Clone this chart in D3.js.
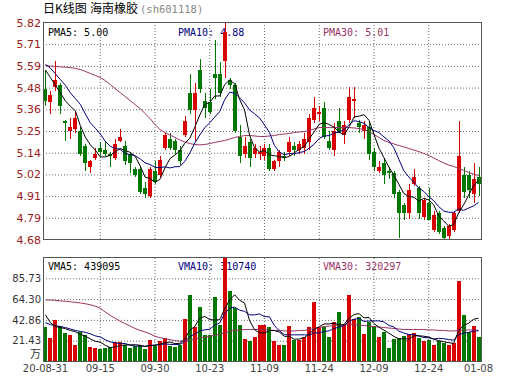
<!DOCTYPE html>
<html><head><meta charset="utf-8">
<script src="https://cdn.jsdelivr.net/npm/d3@7"></script>
<style>body{margin:0;background:#fff}svg{display:block}</style>
</head><body><svg id="c" width="530" height="391"></svg>
<script>
const dates=["2020-08-31",
"2020-09-01","2020-09-02","2020-09-03","2020-09-04","2020-09-07","2020-09-08","2020-09-09","2020-09-10","2020-09-11","2020-09-14","2020-09-15","2020-09-16","2020-09-17","2020-09-18","2020-09-21","2020-09-22","2020-09-23","2020-09-24","2020-09-25","2020-09-28","2020-09-29","2020-09-30",
"2020-10-09","2020-10-12","2020-10-13","2020-10-14","2020-10-15","2020-10-16","2020-10-19","2020-10-20","2020-10-21","2020-10-22","2020-10-23","2020-10-26","2020-10-27","2020-10-28","2020-10-29","2020-10-30",
"2020-11-02","2020-11-03","2020-11-04","2020-11-05","2020-11-06","2020-11-09","2020-11-10","2020-11-11","2020-11-12","2020-11-13","2020-11-16","2020-11-17","2020-11-18","2020-11-19","2020-11-20","2020-11-23","2020-11-24","2020-11-25","2020-11-26","2020-11-27","2020-11-30",
"2020-12-01","2020-12-02","2020-12-03","2020-12-04","2020-12-07","2020-12-08","2020-12-09","2020-12-10","2020-12-11","2020-12-14","2020-12-15","2020-12-16","2020-12-17","2020-12-18","2020-12-21","2020-12-22","2020-12-23","2020-12-24","2020-12-25","2020-12-28","2020-12-29","2020-12-30","2020-12-31",
"2021-01-04","2021-01-05","2021-01-06","2021-01-07","2021-01-08"];

const opens=[5.47,5.40,5.48,5.49,5.30,5.25,5.26,5.25,5.17,5.06,5.11,5.16,5.15,5.13,5.11,5.20,5.17,5.13,5.05,5.05,4.95,4.91,5.04,5.02,5.16,5.21,5.20,5.15,5.23,5.45,5.36,5.57,5.41,5.40,5.55,5.55,5.62,5.52,5.49,5.22,5.13,5.19,5.13,5.13,5.12,5.16,5.05,5.09,5.12,5.14,5.17,5.15,5.16,5.19,5.31,5.34,5.37,5.20,5.15,5.30,5.23,5.31,5.41,5.29,5.25,5.27,5.14,5.04,5.08,5.04,5.03,4.93,4.86,4.82,4.97,4.95,4.80,4.87,4.73,4.82,4.74,4.70,4.73,4.83,5.02,5.02,4.92,5.01];
const highs=[5.57,5.46,5.62,5.50,5.31,5.32,5.35,5.27,5.18,5.10,5.16,5.19,5.20,5.14,5.21,5.26,5.20,5.14,5.06,5.06,4.98,5.06,5.09,5.12,5.24,5.24,5.21,5.17,5.33,5.55,5.50,5.63,5.45,5.47,5.73,5.61,5.82,5.53,5.50,5.28,5.22,5.21,5.18,5.17,5.18,5.18,5.10,5.15,5.14,5.22,5.19,5.20,5.24,5.34,5.43,5.38,5.40,5.25,5.29,5.37,5.30,5.48,5.48,5.31,5.30,5.30,5.16,5.09,5.11,5.06,5.04,4.94,4.87,4.97,5.05,4.96,4.90,4.95,4.83,4.83,4.75,4.76,4.83,5.30,5.06,5.04,5.08,5.06];
const lows=[5.38,5.34,5.46,5.34,5.20,5.21,5.24,5.12,5.04,5.03,5.10,5.12,5.12,5.06,5.10,5.19,5.07,5.03,5.01,4.92,4.90,4.90,4.97,5.01,5.15,5.15,5.13,5.07,5.22,5.34,5.20,5.45,5.32,5.34,5.42,5.43,5.53,5.47,5.24,5.08,5.11,5.06,5.11,5.10,5.10,5.04,5.04,5.06,5.09,5.12,5.12,5.13,5.13,5.15,5.29,5.30,5.21,5.15,5.12,5.24,5.18,5.29,5.32,5.24,5.21,5.10,5.04,5.03,4.97,5.00,4.90,4.69,4.78,4.79,4.96,4.79,4.78,4.78,4.72,4.71,4.68,4.68,4.72,4.82,4.90,4.90,4.87,4.91];
const closes=[5.41,5.44,5.52,5.38,5.29,5.27,5.32,5.13,5.08,5.09,5.13,5.14,5.13,5.12,5.18,5.22,5.09,5.08,5.02,4.93,4.92,5.05,4.98,5.10,5.23,5.16,5.15,5.09,5.30,5.36,5.45,5.47,5.37,5.35,5.53,5.45,5.77,5.49,5.25,5.12,5.17,5.11,5.16,5.14,5.16,5.05,5.09,5.14,5.11,5.19,5.15,5.18,5.21,5.32,5.37,5.35,5.22,5.16,5.25,5.24,5.28,5.43,5.42,5.27,5.28,5.13,5.06,5.06,5.02,5.03,4.92,4.82,4.82,4.94,5.01,4.82,4.89,4.78,4.81,4.72,4.69,4.75,4.82,5.12,4.93,4.94,5.00,4.97];

// volume, 万 shares
const volumes=[36.0,24.0,42.9,37.0,29.1,26.8,17.5,30.2,26.8,15.4,14.4,13.0,14.1,14.7,19.6,19.6,17.5,14.1,15.8,16.5,12.7,22.6,15.8,21.6,24.4,15.8,14.7,17.2,44.3,68.9,36.0,56.6,26.8,27.8,66.2,38.1,112,72.3,55.2,38.1,23.3,21.6,25.7,38.1,38.1,36.0,21.6,17.5,16.5,37.0,22.3,22.3,25.0,36.0,61.0,35.3,36.0,25.0,40.5,50.8,38.1,68.6,43.9,45.6,28.5,40.5,37.0,25.0,30.2,13.7,23.3,24.4,26.1,28.5,29.5,24.4,21.6,22.3,17.5,21.6,18.9,16.5,19.2,82.6,48.4,30.2,37.0,25.0];

// moving-average lines
const ma5=[5.57,5.53,5.49,5.45,5.408,5.38,5.356,5.278,5.218,5.178,5.15,5.114,5.114,5.122,5.14,5.158,5.148,5.138,5.118,5.068,5.008,5.0,4.98,4.996,5.056,5.104,5.124,5.146,5.186,5.212,5.27,5.334,5.39,5.40,5.434,5.434,5.494,5.518,5.498,5.416,5.36,5.228,5.162,5.14,5.148,5.124,5.12,5.116,5.11,5.116,5.136,5.154,5.168,5.21,5.246,5.286,5.294,5.284,5.27,5.244,5.23,5.272,5.324,5.328,5.336,5.306,5.232,5.16,5.11,5.06,5.018,4.97,4.922,4.906,4.902,4.882,4.896,4.888,4.862,4.804,4.778,4.75,4.758,4.82,4.862,4.912,4.962,4.992];
const ma10=[5.60,5.58,5.55,5.52,5.49,5.45,5.42,5.39,5.34,5.293,5.265,5.235,5.196,5.17,5.159,5.154,5.131,5.126,5.12,5.104,5.083,5.074,5.059,5.057,5.062,5.056,5.062,5.063,5.091,5.134,5.187,5.229,5.268,5.293,5.323,5.352,5.414,5.454,5.449,5.425,5.397,5.361,5.34,5.319,5.282,5.242,5.174,5.139,5.125,5.132,5.13,5.137,5.142,5.16,5.181,5.211,5.224,5.226,5.24,5.245,5.258,5.283,5.304,5.299,5.29,5.268,5.252,5.242,5.219,5.198,5.162,5.101,5.041,5.008,4.981,4.95,4.933,4.905,4.884,4.853,4.83,4.823,4.823,4.841,4.833,4.845,4.856,4.875];
const ma30=[5.594,5.591,5.589,5.587,5.585,5.583,5.579,5.573,5.563,5.552,5.542,5.531,5.515,5.494,5.473,5.452,5.431,5.41,5.389,5.368,5.342,5.316,5.284,5.258,5.242,5.229,5.216,5.203,5.192,5.184,5.179,5.177,5.179,5.184,5.19,5.195,5.20,5.208,5.216,5.221,5.226,5.226,5.224,5.221,5.221,5.224,5.226,5.232,5.234,5.237,5.242,5.245,5.247,5.253,5.261,5.268,5.268,5.268,5.268,5.268,5.268,5.268,5.266,5.263,5.258,5.247,5.232,5.216,5.20,5.19,5.182,5.174,5.166,5.158,5.15,5.142,5.132,5.121,5.108,5.095,5.082,5.071,5.064,5.053,5.043,5.032,5.024,5.016];
const vma5=[48,40,36,35,33.8,31.96,30.66,28.12,26.08,23.34,20.86,19.96,16.74,14.32,15.16,16.2,17.1,17.1,17.32,16.7,15.32,16.34,16.68,17.84,19.42,20.04,18.46,18.74,23.28,32.18,36.22,44.6,46.52,43.22,42.68,43.1,54.18,63.28,68.76,63.14,60.18,42.1,32.78,29.36,29.36,31.9,31.9,30.26,25.94,25.72,22.98,23.12,24.62,28.52,33.32,35.92,38.66,38.66,39.56,37.52,38.08,44.6,48.38,49.4,44.94,45.42,39.1,35.32,32.24,29.28,25.84,23.32,23.54,23.2,26.36,26.58,26.02,25.26,23.06,21.48,20.38,19.36,18.74,31.76,37.12,39.38,43.48,44.64];
const vma10=[40,38,37,36,35,33.5,32,31,30,28.57,26.41,25.31,22.43,20.2,19.25,18.53,18.53,16.92,15.82,15.93,15.76,16.72,16.89,17.58,18.06,17.68,17.4,17.71,20.56,25.8,28.13,31.53,32.63,33.25,37.43,39.66,49.39,54.9,55.99,52.91,51.64,48.14,48.03,49.06,46.25,46.04,37.0,31.52,27.65,27.54,27.44,27.51,27.44,27.23,29.52,29.45,30.89,31.64,34.04,35.42,37.0,41.63,43.52,44.48,41.23,41.75,41.85,41.85,40.82,37.11,35.63,31.21,29.43,27.72,27.82,26.21,24.67,24.4,23.13,23.92,23.48,22.69,22.0,27.41,29.3,29.88,31.42,31.69];
const vma30=[63.5,63.3,63,62.5,62,61.5,61,60.3,59.5,58.5,57,55,51,47.5,44.5,41.5,39,36.5,34,32,30.5,28.5,26,24.5,23.5,22.5,21.5,21,21,22,23,24.5,25,26,27,28,29.5,31,32,32.5,33,33,33,33,33,32.5,32,32,31.5,31.5,31.5,32,32,33,34,35,36,36.5,37,37.5,38,38.5,38,37.5,37,36.5,36,35.5,35,34.5,34,33.5,33,33,33,33,33,32.5,32.5,32,32,31.5,31.5,32,32.5,32.5,32.5,32];

const priceTicks=[4.68,4.794,4.908,5.022,5.136,5.25,5.364,5.478,5.592,5.706,5.82];
const volTicks=[21.43,42.86,64.295,85.73];
const volTickLabels=["21.43","42.86","64.30","85.73"];
const tickDates=["2020-08-31","2020-09-15","2020-09-30","2020-10-23","2020-11-09","2020-11-24","2020-12-09","2020-12-24","2021-01-08"];
const tickLabels=["20-08-31","09-15","09-30","10-23","11-09","11-24","12-09","12-24","01-08"];

const UP="#d80000", DOWN="#007800";
const svg=d3.select("#c");
const L=43,R=481,PT=22,PB=239,VT=257,VB=361;
const x=d3.scaleBand().domain(dates).range([L,R]).paddingInner(0.2).paddingOuter(0.1);
const cx=d=>x(d)+x.bandwidth()/2;
const yP=d3.scaleLinear().domain([4.68,5.82]).range([PB+0.5,PT+0.5]);
const yV=d3.scaleLinear().domain([0,107.16]).range([VB+0.5,VT+0.5]);

const defs=svg.append("defs");
defs.append("clipPath").attr("id","cp").append("rect").attr("x",L).attr("y",PT).attr("width",R-L+1).attr("height",PB-PT+1);
defs.append("clipPath").attr("id","cv").append("rect").attr("x",L).attr("y",VT).attr("width",R-L+1).attr("height",VB-VT+1);

// title
const tF="'Noto Sans CJK SC'";
svg.append("text").attr("x",43).attr("y",13).attr("font-family",tF).attr("font-size",12).attr("fill","#000").text("日K线图");
svg.append("text").attr("x",90).attr("y",13).attr("font-family",tF).attr("font-size",12).attr("fill","#000").text("海南橡胶");
svg.append("text").attr("x",140).attr("y",13).attr("font-family","'DejaVu Sans Mono'").attr("font-size",10.5).attr("fill","#888").text("(sh601118)");

// legends
const legF="'DejaVu Sans Mono'";
function leg(tx,ty,t,c){svg.append("text").attr("x",tx).attr("y",ty).attr("font-family",legF).attr("font-size",10).attr("fill",c).text(t);}
leg(48,36,"PMA5: 5.00","#000");
leg(178,36,"PMA10: 4.88","#000080");
leg(323,36,"PMA30: 5.01","#993366");
leg(48,270,"VMA5: 439095","#000");
leg(178,270,"VMA10: 310740","#000080");
leg(323,270,"VMA30: 320297","#993366");

// grids
function gridStyle(g){g.select(".domain").remove();g.selectAll("line").attr("stroke","#6a6a6a").attr("stroke-dasharray","1,2");g.selectAll("text").remove();}
svg.append("g").attr("transform",`translate(${L},0)`).call(d3.axisLeft(yP).tickValues(priceTicks.slice(1,-1)).tickSize(-(R-L)).tickFormat("")).call(gridStyle);
svg.append("g").attr("transform",`translate(${L},0)`).call(d3.axisLeft(yV).tickValues(volTicks).tickSize(-(R-L)).tickFormat("")).call(gridStyle);
const innerDates=tickDates.slice(1,-1);
svg.append("g").attr("transform",`translate(0,${PB})`).call(d3.axisBottom(x).tickValues(innerDates).tickSize(-(PB-PT)).tickFormat("")).call(gridStyle);
svg.append("g").attr("transform",`translate(0,${VB})`).call(d3.axisBottom(x).tickValues(innerDates).tickSize(-(VB-VT)).tickFormat("")).call(gridStyle);

// candles
const gC=svg.append("g").attr("clip-path","url(#cp)");
dates.forEach((d,i)=>{
  const o=opens[i],c=closes[i],h=highs[i],l=lows[i];
  const col=c>=o?UP:DOWN;
  const bx=Math.round(cx(d)-2);
  const yh=Math.round(yP(h)),yl=Math.round(yP(l));
  gC.append("rect").attr("x",bx+2).attr("width",1).attr("y",yh).attr("height",Math.max(1,yl-yh)).attr("fill",col);
  const y1=Math.round(yP(Math.max(o,c))),y2=Math.round(yP(Math.min(o,c)));
  gC.append("rect").attr("x",bx).attr("width",4).attr("y",y1).attr("height",Math.max(1,y2-y1)).attr("fill",col);
});
// volume bars
const gV=svg.append("g").attr("clip-path","url(#cv)");
dates.forEach((d,i)=>{
  const col=closes[i]>=opens[i]?UP:DOWN;
  const bx=Math.round(cx(d)-2);
  const yt=Math.round(yV(volumes[i]));
  gV.append("rect").attr("x",bx).attr("width",4).attr("y",yt).attr("height",VB-yt).attr("fill",col);
});

// MA lines
function maLine(g,arr,ys,col){
  g.append("path").datum(arr).attr("fill","none").attr("stroke",col).attr("stroke-width",1)
   .attr("d",d3.line().x((v,i)=>cx(dates[i])).y(v=>ys(v)));
}
const gML=svg.append("g").attr("clip-path","url(#cp)");
maLine(gML,ma30,yP,"#993366");maLine(gML,ma10,yP,"#000080");maLine(gML,ma5,yP,"#000");
const gVL=svg.append("g").attr("clip-path","url(#cv)");
maLine(gVL,vma30,yV,"#993366");maLine(gVL,vma10,yV,"#000080");maLine(gVL,vma5,yV,"#000");

// borders
svg.append("rect").attr("x",L+0.5).attr("y",PT+0.5).attr("width",R-L).attr("height",PB-PT).attr("fill","none").attr("stroke","#555");
svg.append("rect").attr("x",L+0.5).attr("y",VT+0.5).attr("width",R-L).attr("height",VB-VT).attr("fill","none").attr("stroke","#555");

// axes labels
const axF="'DejaVu Sans'";
svg.append("g").attr("transform",`translate(${L},0)`)
  .call(d3.axisLeft(yP).tickValues(priceTicks).tickFormat(d3.format(".2f")).tickSize(0).tickPadding(2))
  .call(g=>{g.select(".domain").remove();g.selectAll("text").attr("font-family",axF).attr("font-size",11).attr("fill","#9a2020");});
svg.append("g").attr("transform",`translate(${L},0)`)
  .call(d3.axisLeft(yV).tickValues(volTicks).tickFormat((d,i)=>volTickLabels[i]).tickSize(0).tickPadding(2))
  .call(g=>{g.select(".domain").remove();g.selectAll("text").attr("font-family",axF).attr("font-size",10).attr("fill","#333");});
svg.append("text").attr("x",41).attr("y",358).attr("text-anchor","end").attr("font-family","'Noto Sans CJK SC'").attr("font-size",11).attr("fill","#333").text("万");
svg.append("g").attr("transform",`translate(0,${VB})`)
  .call(d3.axisBottom(x).tickValues(tickDates).tickFormat((d,i)=>tickLabels[i]).tickSize(0).tickPadding(4))
  .call(g=>{g.select(".domain").remove();g.selectAll("text").attr("font-family",axF).attr("font-size",10).attr("fill","#444");});
</script></body></html>
